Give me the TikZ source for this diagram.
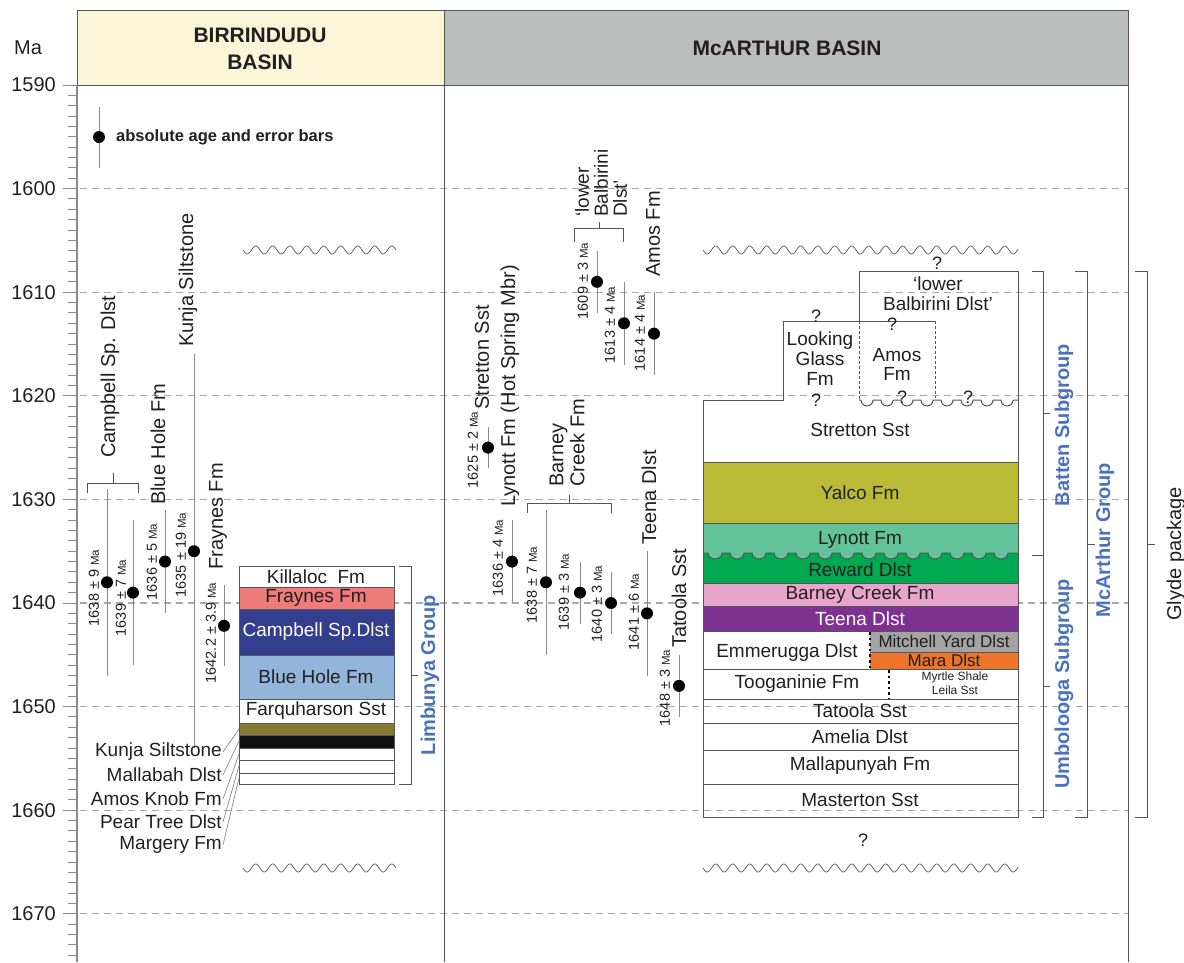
\documentclass[tikz,border=0pt]{standalone}
\usepackage{fontspec}
\setmainfont{Liberation Sans}
\definecolor{txt}{HTML}{231F20}
\definecolor{framegray}{HTML}{555555}
\definecolor{dashgray}{HTML}{AAAAAA}
\definecolor{bargray}{HTML}{8A8A8A}
\definecolor{hdryellow}{HTML}{FBF5D8}
\definecolor{hdrgray}{HTML}{B9BDBC}
\definecolor{grpblue}{HTML}{4A72BC}
\definecolor{lynott}{HTML}{61C29B}
\definecolor{reward}{HTML}{00A84F}
\definecolor{yalco}{HTML}{B9BA36}
\definecolor{barney}{HTML}{E8A5CB}
\definecolor{teena}{HTML}{7D3292}
\definecolor{mitchell}{HTML}{A3A3A3}
\definecolor{mara}{HTML}{EE7429}
\definecolor{fraynes}{HTML}{EF7B7B}
\definecolor{campbell}{HTML}{333E8E}
\definecolor{bluehole}{HTML}{93B5DB}
\definecolor{olive}{HTML}{877932}
\newcommand{\fsz}[2]{\fontsize{#1}{#2}\selectfont}
\newcommand{\ay}[1]{85+10.36*(#1-1590)}
\newcommand{\mau}{{\fontsize{11.5}{13}\selectfont Ma}}
\newcommand{\ebar}[3]{%
  \draw[bar] (#1,{\ay{#2-#3}}) -- (#1,{\ay{#2+#3}});
  \fill[black] (#1,{\ay{#2}}) circle[radius=6];}
\newcommand{\wavyline}[3]{%
  \draw[wave] plot[domain=#1:#2, samples=400] (\x,{#3+4*sin(360*mod((\x-#1)/17,1))});}
\begin{document}
\begin{tikzpicture}[x=1pt,y=-1pt,
  every node/.style={inner sep=0pt, text=txt},
  dashln/.style={draw=dashgray, line width=1.1pt, dash pattern=on 7pt off 5pt},
  frame/.style={draw=framegray, line width=1pt},
  tick/.style={draw=bargray, line width=1pt},
  bar/.style={draw=bargray, line width=0.9pt},
  brk/.style={draw=framegray, line width=0.9pt},
  lay/.style={draw=framegray, line width=1pt},
  wave/.style={draw=framegray, line width=0.7pt},
  leader/.style={draw=bargray, line width=0.7pt},
  rot/.style={rotate=90, anchor=west, font=\fsz{20}{21}},
  agelab/.style={rotate=90, font=\fsz{14.5}{16}},
  stk/.style={font=\fsz{19}{21}},
  grp/.style={rotate=90, font=\bfseries\fsz{20}{22}, text=grpblue},
  qm/.style={font=\fsz{18}{20}}
]
\useasboundingbox (0,0) rectangle (1184,962);

% ---- dashed age lines
\foreach \k in {1,...,8} \draw[dashln] (80,{85+103.6*\k}) -- (1128,{85+103.6*\k});

% ---- axis ticks and labels
\foreach \k in {0,...,84} \draw[tick] (68,{85+10.36*\k}) -- (77,{85+10.36*\k});
\foreach \k/\lab in {0/1590,1/1600,2/1610,3/1620,4/1630,5/1640,6/1650,7/1660,8/1670} {
  \draw[tick] (63,{85+103.6*\k}) -- (77,{85+103.6*\k});
  \node[anchor=east, font=\fsz{20}{22}] (tl\k) at (56,{85+103.6*\k}) {\lab};
}
\node[font=\fsz{20}{22}] (maunit) at (28,48) {Ma};

% ---- headers and frame
\draw[frame, fill=hdryellow] (77,10) rectangle (444,85);
\draw[frame, fill=hdrgray] (444,10) rectangle (1128,85);
\node[font=\bfseries\fsz{21}{27}, align=center] (hbirr) at (260,49) {BIRRINDUDU\\BASIN};
\node[font=\bfseries\fsz{21}{27}] (hmca) at (787,48) {McARTHUR BASIN};
\draw[draw=bargray, line width=1.4pt] (77,85) -- (77,962);
\draw[frame] (444,85) -- (444,962);
\draw[frame] (1128,85) -- (1128,962);

% ---- legend
\draw[bar] (99,107) -- (99,168);
\fill[black] (99,137) circle[radius=6];
\node[anchor=west, font=\bfseries\fsz{16.5}{18}] (legend) at (116,137) {absolute age and error bars};

% ---- unconformity waves
\wavyline{243}{396}{250}
\wavyline{703}{1018}{250}
\wavyline{243}{396}{868}
\wavyline{703}{1018}{868}

% ---- Birrindudu age bars
\ebar{107}{1638}{9}
\ebar{133}{1639}{7}
\ebar{165}{1636}{5}
\ebar{194}{1635}{19}
\ebar{224}{1642.2}{3.9}
\node[agelab] (a1) at (94,588) {1638 ± 9 \mau};
\node[agelab] (a2) at (121,598) {1639 ± 7 \mau};
\node[agelab] (a3) at (152,562) {1636 ± 5 \mau};
\node[agelab] (a4) at (181,555) {1635 ± 19 \mau};
\node[agelab] (a5) at (211,633) {1642.2 ± 3.9 \mau};
\node[rot] (fCampbell) at (110,458) {Campbell Sp. Dlst};
\node[rot] (fBlueHole) at (158,505) {Blue Hole Fm};
\node[rot] (fKunja) at (188,347) {Kunja Siltstone};
\node[rot] (fFraynes) at (218,570) {Fraynes Fm};
\draw[brk] (113,473) -- (113,483);
\draw[brk] (87,493) -- (87,483) -- (138,483) -- (138,493);

% ---- Birrindudu stack
\fill[white] (239,566) rectangle (394,587);
\fill[fraynes] (239,587) rectangle (394,609);
\fill[campbell] (239,609) rectangle (394,655);
\fill[bluehole] (239,655) rectangle (394,699);
\fill[white] (239,699) rectangle (394,723);
\fill[olive] (239,723) rectangle (394,735);
\fill[black!93] (239,735) rectangle (394,748);
\fill[white] (239,748) rectangle (394,784);
\foreach \yy in {587,609,655,699,723,735,748,760,773} \draw[lay] (239,\yy) -- (394,\yy);
\draw[lay] (239,566) rectangle (394,784);
\node[stk] (sKill) at (316,577) {Killaloc\ \ Fm};
\node[stk] (sFray) at (316,598) {Fraynes Fm};
\node[stk, text=white] (sCamp) at (316,632) {Campbell Sp.Dlst};
\node[stk] (sBlue) at (316,677) {Blue Hole Fm};
\node[stk] (sFarq) at (316,711) {Farquharson Sst};
\node[stk, anchor=east] (lKunja) at (222,752) {Kunja Siltstone};
\node[stk, anchor=east] (lMall) at (222,775) {Mallabah Dlst};
\node[stk, anchor=east] (lAmos) at (222,799) {Amos Knob Fm};
\node[stk, anchor=east] (lPear) at (222,822) {Pear Tree Dlst};
\node[stk, anchor=east] (lMarg) at (222,845) {Margery Fm};
\coordinate (bKunja) at (239,729);
\coordinate (bMall) at (239,741);
\coordinate (bAmos) at (239,754);
\coordinate (bPear) at (239,766);
\coordinate (bMarg) at (239,778);
\draw[leader] ([xshift=1]lKunja.east) -- (bKunja);
\draw[leader] ([xshift=1]lMall.east) -- (bMall);
\draw[leader] ([xshift=1]lAmos.east) -- (bAmos);
\draw[leader] ([xshift=1]lPear.east) -- (bPear);
\draw[leader] ([xshift=1]lMarg.east) -- (bMarg);
% Limbunya bracket
\draw[brk] (399,566) -- (411,566) -- (411,784) -- (399,784);
\draw[brk] (411,675) -- (418,675);
\node[grp] (gLimb) at (430,675) {Limbunya Group};

% ---- McArthur age bars
\ebar{488}{1625}{2}
\ebar{597}{1609}{3}
\ebar{624}{1613}{4}
\ebar{654}{1614}{4}
\ebar{512}{1636}{4}
\ebar{546}{1638}{7}
\ebar{580}{1639}{3}
\ebar{611}{1640}{3}
\ebar{647}{1641}{6}
\ebar{679}{1648}{3}
\node[agelab] (m1) at (473,450) {1625 ± 2 \mau};
\node[agelab] (m2) at (583,281) {1609 ± 3 \mau};
\node[agelab] (m3) at (610,325) {1613 ± 4 \mau};
\node[agelab] (m4) at (640,333) {1614 ± 4 \mau};
\node[agelab] (m5) at (498,558) {1636 ± 4 \mau};
\node[agelab] (m6) at (532,585) {1638 ± 7 \mau};
\node[agelab] (m7) at (564,592) {1639 ± 3 \mau};
\node[agelab] (m8) at (597,604) {1640 ± 3 \mau};
\node[agelab] (m9) at (634,612) {1641 ± 6 \mau};
\node[agelab] (m10) at (665,688) {1648 ± 3 \mau};
\node[rot, align=left, font=\fsz{19}{19}] (fBalb) at (601,217) {‘lower\\Balbirini\\Dlst’};
\node[rot] (fAmos) at (653,277) {Amos Fm};
\node[rot] (fStret) at (482,410) {Stretton Sst};
\node[rot] (fLyn) at (510,507) {Lynott Fm (Hot Spring Mbr)};
\node[rot, align=left] (fBarney) at (567,487) {Barney\\Creek Fm};
\node[rot] (fTeena) at (649,545) {Teena Dlst};
\node[rot] (fTat) at (679,648) {Tatoola Sst};
\draw[brk] (599,222) -- (599,228);
\draw[brk] (574,242) -- (574,228) -- (623,228) -- (623,242);
\draw[brk] (569,495) -- (569,503);
\draw[brk] (527,513) -- (527,503) -- (611,503) -- (611,513);

% ---- McArthur stack fills
\fill[yalco] (703,462) rectangle (1018,523);
\fill[reward] (703,550) rectangle (1018,583);
\fill[lynott] (703,523) -- (703,553) -- (708,553)
  \foreach \i in {0,...,13} { -- ({708+22*\i},553) arc[start angle=180, end angle=0, x radius=7, y radius=6] }
  -- (1018,553) -- (1018,523) -- cycle;
\fill[barney] (703,583) rectangle (1018,606);
\fill[teena] (703,606) rectangle (1018,631);
\fill[mitchell] (870,631) rectangle (1018,652);
\fill[mara] (870,652) rectangle (1018,669);
% lines
\draw[lay] (703,553) -- (708,553)
  \foreach \i in {0,...,13} { -- ({708+22*\i},553) arc[start angle=180, end angle=0, x radius=7, y radius=6] }
  -- (1018,553);
\foreach \yy in {462,523,583,606,631,669,699,723,750,784} \draw[lay] (703,\yy) -- (1018,\yy);
\draw[lay] (870,652) -- (1018,652);
\draw[lay] (703,400) -- (703,817) -- (1018,817) -- (1018,271) -- (859,271) -- (859,321) -- (783,321) -- (783,400) -- cycle;
\draw[lay] (859,321) -- (935,321);
\draw[draw=framegray, line width=0.7pt, dash pattern=on 3pt off 2pt] (859,321) -- (859,400);
\draw[draw=framegray, line width=0.7pt, dash pattern=on 3pt off 2pt] (935,321) -- (935,398);
\draw[lay] (859,400)
  \foreach \i in {0,...,7} { -- ({861+20*\i},400) arc[start angle=180, end angle=0, radius=6] }
  -- (1018,400);
\draw[black, line width=2.6pt, dash pattern=on 2.6pt off 3pt] (870,632) -- (870,669);
\draw[black, line width=2.6pt, dash pattern=on 2.6pt off 3pt] (889,670) -- (889,699);

% ---- McArthur stack labels
\node[stk, align=center, font=\fsz{19}{20}] (sBalb) at (938,294) {‘lower\\Balbirini Dlst’};
\node[stk, align=center, font=\fsz{19}{20}] (sLook) at (820,359) {Looking\\Glass\\Fm};
\node[stk, align=center, font=\fsz{19}{19}] (sAmos) at (897,364) {Amos\\Fm};
\node[stk] (sStret) at (860,430) {Stretton Sst};
\node[stk] (sYalco) at (860,493) {Yalco Fm};
\node[stk] (sLyn) at (860,540) {Lynott Fm};
\node[stk] (sRew) at (860,570) {Reward Dlst};
\node[stk] (sBarn) at (860,595) {Barney Creek Fm};
\node[stk, text=white] (sTeena) at (860,619) {Teena Dlst};
\node[stk] (sEmm) at (787,653) {Emmerugga Dlst};
\node[font=\fsz{17}{19}] (sMitch) at (944,641) {Mitchell Yard Dlst};
\node[font=\fsz{17}{19}] (sMara) at (944,660) {Mara Dlst};
\node[stk] (sToog) at (797,684) {Tooganinie Fm};
\node[font=\fsz{12}{14}, align=center] (sMyrt) at (955,683) {Myrtle Shale\\Leila Sst};
\node[stk] (sTat) at (860,711) {Tatoola Sst};
\node[stk] (sAmel) at (860,737) {Amelia Dlst};
\node[stk] (sMall) at (860,766) {Mallapunyah Fm};
\node[stk] (sMast) at (860,800) {Masterton Sst};
\node[qm] (q1) at (937,263) {?};
\node[qm] (q2) at (816,316) {?};
\node[qm] (q3) at (892,324) {?};
\node[qm] (q4) at (816,400) {?};
\node[qm] (q5) at (902,397) {?};
\node[qm] (q6) at (968,397) {?};
\node[qm] (q7) at (863,840) {?};

% ---- right brackets
\draw[brk] (1032,271) -- (1043,271) -- (1043,817) -- (1032,817);
\draw[brk] (1032,555) -- (1043,555);
\draw[brk] (1043,413) -- (1050,413);
\draw[brk] (1043,686) -- (1050,686);
\node[grp] (gBatten) at (1064,425) {Batten Subgroup};
\node[grp] (gUmb) at (1064,684) {Umbolooga Subgroup};
\draw[brk] (1075,271) -- (1087,271) -- (1087,817) -- (1075,817);
\draw[brk] (1087,544) -- (1095,544);
\node[grp] (gMcA) at (1105,540) {McArthur Group};
\draw[brk] (1135,271) -- (1147,271) -- (1147,817) -- (1135,817);
\draw[brk] (1147,544) -- (1155,544);
\node[rotate=90, font=\fsz{20}{22}] (gGlyde) at (1176,554) {Glyde package};
\end{tikzpicture}
\end{document}
